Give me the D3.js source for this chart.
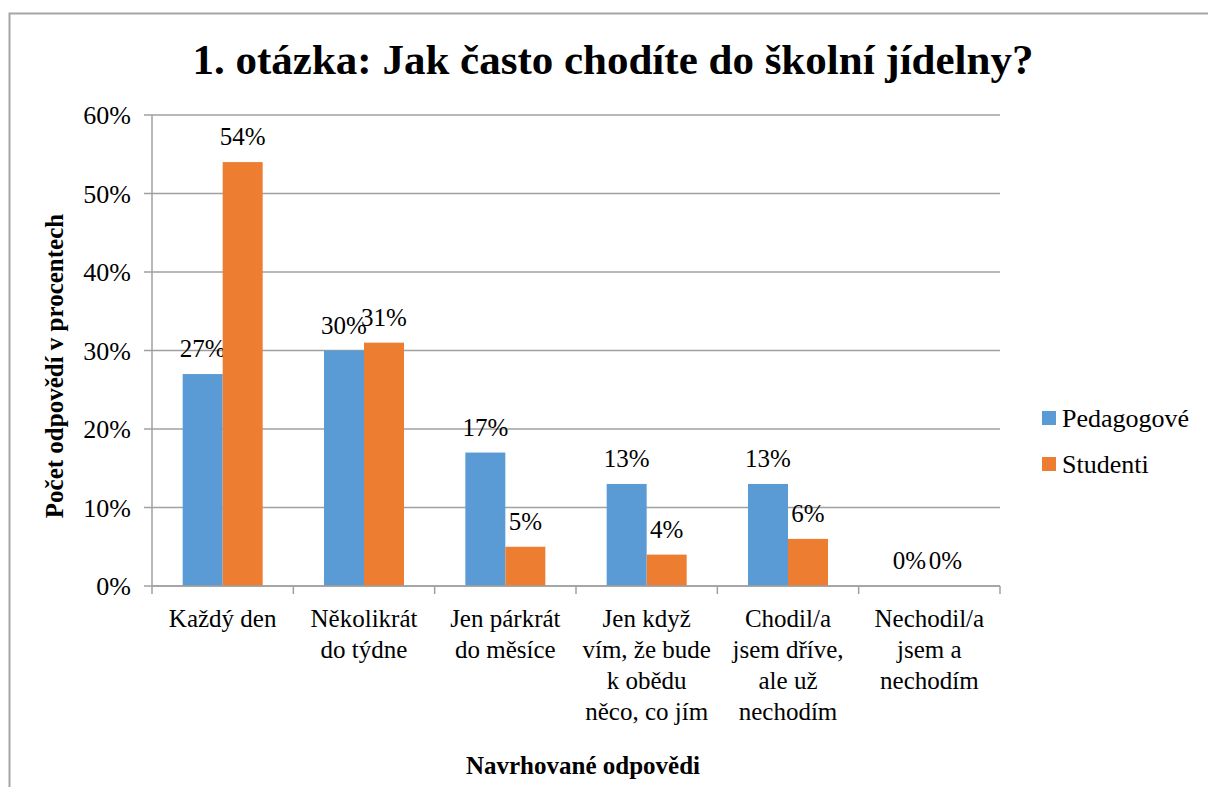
<!DOCTYPE html>
<html><head><meta charset="utf-8">
<script src="https://cdn.jsdelivr.net/npm/d3@7"></script>
<style>body{margin:0;background:#fff;}</style>
</head><body>
<svg id="c" width="1208" height="787"></svg>
<script>
const categories = [
  ["Každý den"],
  ["Několikrát", "do týdne"],
  ["Jen párkrát", "do měsíce"],
  ["Jen když", "vím, že bude", "k obědu", "něco, co jím"],
  ["Chodil/a", "jsem dříve,", "ale už", "nechodím"],
  ["Nechodil/a", "jsem a", "nechodím"]
];
const seriesNames = ["Pedagogové", "Studenti"];
const pedagogove = [27, 30, 17, 13, 13, 0];
const studenti = [54, 31, 5, 4, 6, 0];
const yTicks = [0, 10, 20, 30, 40, 50, 60];
const colors = ["#5B9BD5", "#ED7D31"];
const FONT = "'Liberation Serif', Tinos, 'Times New Roman', Times, 'Nimbus Roman No9 L', 'Nimbus Roman', FreeSerif, 'Noto Serif', 'DejaVu Serif', Georgia, serif";

const svg = d3.select("#c").attr("font-family", FONT);
svg.append("rect").attr("x", 9.5).attr("y", 13.5).attr("width", 1208).attr("height", 800)
  .attr("fill", "none").attr("stroke", "#A6A6A6").attr("stroke-width", 2);

const L = 152, R = 1000, T = 115, B = 586;
const x = d3.scaleBand().domain(d3.range(categories.length)).range([L, R]);
const y = d3.scaleLinear().domain([0, 60]).range([B, T]);
const barW = 40;

// gridlines
svg.append("g").selectAll("line").data(yTicks).join("line")
  .attr("x1", L - 8).attr("x2", R).attr("y1", d => y(d)).attr("y2", d => y(d))
  .attr("stroke", "#A0A0A0").attr("stroke-width", 1.5);

// y axis labels
svg.append("g").selectAll("text").data(yTicks).join("text")
  .attr("font-family", FONT).attr("font-weight", "normal")
  .attr("x", 131).attr("y", d => y(d) + 9).attr("text-anchor", "end")
  .attr("font-size", 26).attr("fill", "#000").text(d => d + "%");

// bars
const series = [pedagogove, studenti];
series.forEach((vals, s) => {
  const g = svg.append("g");
  g.selectAll("rect").data(vals).join("rect")
    .attr("x", (d, i) => x(i) + x.bandwidth() / 2 - barW + s * barW)
    .attr("y", d => y(d)).attr("width", barW).attr("height", d => B - y(d))
    .attr("fill", colors[s]);
  g.selectAll("text").data(vals).join("text")
    .attr("font-family", FONT).attr("font-weight", "normal")
    .attr("x", (d, i) => x(i) + x.bandwidth() / 2 - barW / 2 + s * barW + (d === 0 && s === 1 ? -4 : 0))
    .attr("y", d => y(d) - 17).attr("text-anchor", "middle")
    .attr("font-size", 25).attr("fill", "#000").text(d => d + "%");
});

// axes lines
svg.append("line").attr("x1", L).attr("x2", L).attr("y1", T).attr("y2", B)
  .attr("stroke", "#A0A0A0").attr("stroke-width", 1.5);
svg.append("line").attr("x1", L).attr("x2", R).attr("y1", B).attr("y2", B)
  .attr("stroke", "#A0A0A0").attr("stroke-width", 1.5);
svg.append("g").selectAll("line").data(d3.range(categories.length + 1)).join("line")
  .attr("x1", i => L + i * x.bandwidth()).attr("x2", i => L + i * x.bandwidth())
  .attr("y1", B).attr("y2", B + 8).attr("stroke", "#A0A0A0").attr("stroke-width", 1.5);

// category labels
categories.forEach((lines, i) => {
  const t = svg.append("text").attr("font-family", FONT).attr("font-weight", "normal").attr("text-anchor", "middle")
    .attr("font-size", 25).attr("fill", "#000");
  lines.forEach((ln, j) => {
    t.append("tspan").attr("x", x(i) + x.bandwidth() / 2).attr("y", 627 + j * 31).text(ln);
  });
});

// title
svg.append("text").attr("font-family", FONT).attr("x", 613).attr("y", 74).attr("text-anchor", "middle")
  .attr("font-size", 43).attr("font-weight", "bold").attr("fill", "#000")
  .text("1. otázka: Jak často chodíte do školní jídelny?");

// axis titles
svg.append("text").attr("font-family", FONT).attr("transform", "translate(63,366) rotate(-90)").attr("text-anchor", "middle")
  .attr("font-size", 25).attr("font-weight", "bold").attr("fill", "#000")
  .text("Počet odpovědí v procentech");
svg.append("text").attr("font-family", FONT).attr("x", 583).attr("y", 774).attr("text-anchor", "middle")
  .attr("font-size", 25).attr("font-weight", "bold").attr("fill", "#000")
  .text("Navrhované odpovědi");

// legend
const lg = svg.append("g").selectAll("g").data(seriesNames).join("g")
  .attr("transform", (d, i) => `translate(1042,${411 + i * 46})`);
lg.append("rect").attr("width", 14).attr("height", 14).attr("fill", (d, i) => colors[i]);
lg.append("text").attr("font-family", FONT).attr("font-weight", "normal").attr("x", 20).attr("y", 16).attr("font-size", 26).attr("fill", "#000").text(d => d);
</script>
</body></html>
